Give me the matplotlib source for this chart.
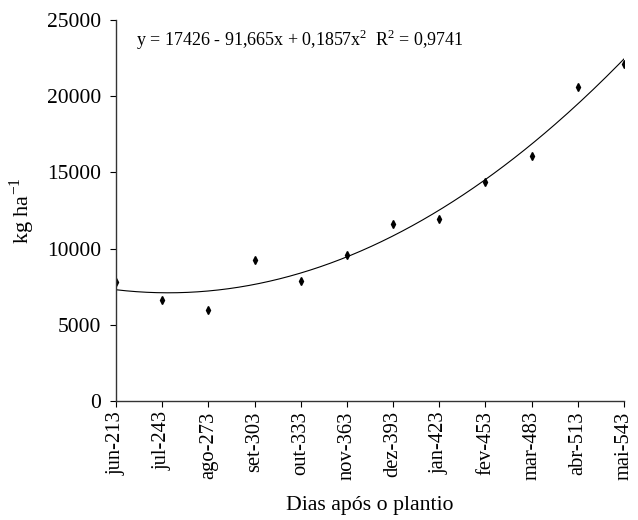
import numpy as np
import matplotlib.pyplot as plt

plt.rcParams['font.family'] = ['Liberation Serif', 'DejaVu Serif']

# data
labels = ['jun-213', 'jul-243', 'ago-273', 'set-303', 'out-333', 'nov-363',
          'dez-393', 'jan-423', 'fev-453', 'mar-483', 'abr-513', 'mai-543']
days = [213, 243, 273, 303, 333, 363, 393, 423, 453, 483, 513, 543]
values = [7800, 6630, 5970, 9250, 7850, 9580, 11620, 11940, 14370, 16080, 20600, 22110]

fig = plt.figure(figsize=(6.38, 5.2), dpi=100)
ax = fig.add_axes([0.182, 0.229, 0.796, 0.7325])

x = np.arange(len(labels))
ax.plot(x, values, linestyle='none', marker='d', markersize=4, color='black')

# quadratic trendline fitted to the points
coef = np.polyfit(days, values, 2)
dd = np.linspace(days[0], days[-1], 200)
xx = (dd - days[0]) / (days[1] - days[0])
ax.plot(xx, np.polyval(coef, dd), color='black', linewidth=0.8)

ax.set_xlim(0, len(labels) - 1)
ax.set_ylim(0, 25000)
ax.set_yticks(np.arange(0, 25001, 5000))
ax.set_xticks(x)
ax.set_xticklabels(labels, rotation=90, fontsize=14.8)
ax.tick_params(axis='y', labelsize=15.5, direction='out', length=4, pad=7)
ax.tick_params(axis='x', direction='out', length=4)

for s in ['top', 'right']:
    ax.spines[s].set_visible(False)
for s in ['left', 'bottom']:
    ax.spines[s].set_linewidth(1)
    ax.spines[s].set_color('#333333')

ax.set_ylabel('kg ha$^{\\mathregular{-1}}$', fontsize=16, labelpad=7)
ax.set_xlabel('Dias após o plantio', fontsize=15.7, labelpad=11)

ax.text(0.04, 0.947, 'y = 17426 - 91,665x + 0,1857x$^{\\mathregular{2}}$  R$^{\\mathregular{2}}$ = 0,9741',
        transform=ax.transAxes, fontsize=13, va='center', ha='left')

fig.savefig('out.png', dpi=100)
